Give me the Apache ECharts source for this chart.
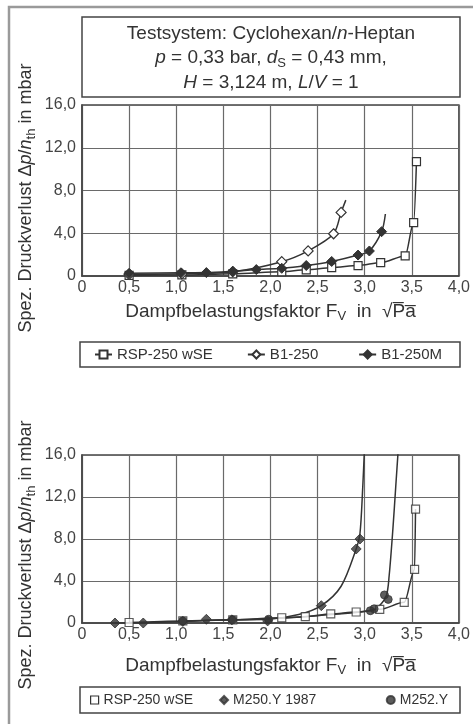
<!DOCTYPE html>
<html>
<head>
<meta charset="utf-8">
<script src="https://cdn.jsdelivr.net/npm/echarts@6/dist/echarts.min.js"></script>
<style>
  html, body { margin: 0; padding: 0; background: #fff; }
  #chart { width: 473px; height: 724px; }
</style>
</head>
<body>
<div id="chart"></div>
<script>
const FONT = '"Liberation Sans", Arial, sans-serif';
const INK = '#333';
const GRIDLINE = '#6a6a6a';

// obere Grafik: Messpunkte [F_V, dp/n_th]
const rspTop = [[0.5, 0.05], [1.06, 0.1], [1.6, 0.2], [2.12, 0.4], [2.38, 0.58], [2.65, 0.78], [2.93, 0.98], [3.17, 1.25], [3.43, 1.88], [3.52, 5.0], [3.55, 10.7]];
const b1Top = [[0.5, 0.15], [1.06, 0.2], [1.6, 0.4], [2.12, 1.34], [2.4, 2.35], [2.67, 3.95], [2.75, 5.95]];
const b1mTop = [[0.5, 0.25], [1.05, 0.3], [1.32, 0.32], [1.6, 0.45], [1.85, 0.6], [2.12, 0.72], [2.38, 0.98], [2.65, 1.36], [2.93, 1.96], [3.05, 2.34], [3.18, 4.15]];
// Kurvenenden ohne Messpunkt
const b1TopEnd = [2.8, 7.1];
const b1mTopEnd = [3.22, 5.8];

// untere Grafik: Messpunkte
const rspBottom = [[0.5, 0.05], [1.07, 0.2], [1.6, 0.3], [2.12, 0.5], [2.37, 0.6], [2.64, 0.86], [2.91, 1.05], [3.16, 1.3], [3.42, 1.97], [3.53, 5.1], [3.54, 10.85]];
const m250Bottom = [[0.35, 0.0], [0.65, 0.0], [1.07, 0.15], [1.32, 0.35], [1.59, 0.3], [1.97, 0.2], [2.54, 1.65], [2.91, 7.05], [2.95, 8.0]];
const m252Bottom = [[1.07, 0.2], [1.6, 0.3], [1.98, 0.35], [3.06, 1.17], [3.1, 1.35], [3.21, 2.67], [3.25, 2.25]];
// Ausgleichskurven
const m250Curve = [[0.35, 0.0], [0.65, 0.02], [1.07, 0.15], [1.59, 0.3], [1.97, 0.35], [2.3, 0.8], [2.54, 1.65], [2.75, 3.5], [2.91, 7.05], [2.95, 8.5], [2.98, 13.0], [3.0, 17.0]];
const m252Curve = [[1.07, 0.2], [1.6, 0.3], [1.98, 0.4], [2.5, 0.7], [3.06, 1.17], [3.15, 1.6], [3.23, 2.6], [3.26, 4.5], [3.3, 9.0], [3.33, 13.0], [3.36, 17.0]];

const legendTop = ['RSP-250 wSE', 'B1-250', 'B1-250M'];
const legendBottom = ['RSP-250 wSE', 'M250.Y 1987', 'M252.Y'];

const numFmt = v => v === 0 ? '0' : v.toFixed(1).replace('.', ',');

function richSet(size) {
  return {
    i: { fontFamily: FONT, fontSize: size, fontStyle: 'italic', color: INK },
    sub: { fontFamily: FONT, fontSize: Math.round(size * 0.7), color: INK, padding: [Math.round(size * 0.55), 0, 0, 0], lineHeight: Math.round(size * 0.75) },
    ov: { fontFamily: FONT, fontSize: size, color: INK }
  };
}

function xAx(gridIndex, gap) {
  return {
    type: 'value', gridIndex, min: 0, max: 4, interval: 0.5,
    axisLine: { show: true, onZero: false, lineStyle: { color: '#444', width: 1.5 } },
    axisTick: { show: false },
    splitLine: { show: true, lineStyle: { color: GRIDLINE, width: 1.2 } },
    axisLabel: { formatter: numFmt, color: '#444', fontSize: 16, fontFamily: FONT, margin: 4 },
    name: 'Dampfbelastungsfaktor F{sub|V}  in  √{ov|P̅a̅}',
    nameLocation: 'middle', nameGap: gap,
    nameTextStyle: { color: INK, fontSize: 19, fontFamily: FONT, rich: richSet(19) }
  };
}

function yAx(gridIndex) {
  return {
    type: 'value', gridIndex, min: 0, max: 16, interval: 4,
    axisLine: { show: true, lineStyle: { color: '#444', width: 1.5 } },
    axisTick: { show: false },
    splitLine: { show: true, lineStyle: { color: GRIDLINE, width: 1.2 } },
    axisLabel: { formatter: numFmt, color: '#444', fontSize: 16, fontFamily: FONT, margin: 6 }
  };
}

const lineBase = {
  type: 'line', smooth: 0.3, showAllSymbol: true,
  lineStyle: { color: INK, width: 1.5 }, emphasis: { disabled: true }
};

const withEnd = (arr, end) => arr.concat([{ value: end, symbol: 'none' }]);

const yLabel = 'Spez. Druckverlust Δ{i|p}/{i|n}{sub|th} in mbar';

const legendText = size => ({ color: INK, fontSize: size, fontFamily: FONT });
const openSquare = { color: '#fff', borderColor: INK, borderWidth: 1.2 };

const chart = echarts.init(document.getElementById('chart'));
chart.setOption({
  backgroundColor: '#fff',
  animation: false,
  grid: [
    { left: 82, right: 14, top: 105, height: 171, show: true, borderColor: '#444', borderWidth: 1.5 },
    { left: 82, right: 14, top: 455, height: 168, show: true, borderColor: '#444', borderWidth: 1.5 }
  ],
  xAxis: [xAx(0, 26), xAx(1, 33)],
  yAxis: [yAx(0), yAx(1)],
  legend: [
    {
      data: legendTop.slice(0, 2), left: 94, top: 347, padding: 0, itemGap: 34, itemWidth: 17, itemHeight: 10,
      selectedMode: false, textStyle: legendText(15)
    },
    {
      data: legendTop.slice(2), right: 31, top: 347, padding: 0, itemWidth: 17, itemHeight: 10,
      selectedMode: false, textStyle: legendText(15)
    },
    {
      data: [
        { name: legendBottom[0], icon: 'rect', itemStyle: openSquare },
        { name: legendBottom[1], icon: 'diamond', itemStyle: { color: INK, borderColor: INK } }
      ],
      left: 90, top: 693, padding: 0, itemGap: 26, itemWidth: 8, itemHeight: 8,
      selectedMode: false, textStyle: legendText(14)
    },
    {
      data: [{ name: legendBottom[2], icon: 'circle', itemStyle: { color: INK, borderColor: INK } }],
      right: 25, top: 693, padding: 0, itemWidth: 8, itemHeight: 8,
      selectedMode: false, textStyle: legendText(14)
    }
  ],
  graphic: [
    { type: 'rect', shape: { x: 9, y: 7, width: 480, height: 740 }, style: { fill: 'none', stroke: '#9a9a9a', lineWidth: 2.5 }, z: -1 },
    { type: 'rect', shape: { x: 82, y: 17, width: 378, height: 80 }, style: { fill: '#fff', stroke: '#444', lineWidth: 1.5 } },
    {
      type: 'text', x: 271, y: 58,
      style: {
        text: 'Testsystem: Cyclohexan/{i|n}-Heptan\n{i|p} = 0,33 bar, {i|d}{sub|S} = 0,43 mm,\n{i|H} = 3,124 m, {i|L}/{i|V} = 1',
        align: 'center', verticalAlign: 'middle', textAlign: 'center', textVerticalAlign: 'middle',
        fontFamily: FONT, fontSize: 19, fill: INK, lineHeight: 24.5, rich: richSet(19)
      }
    },
    { type: 'rect', shape: { x: 80, y: 342, width: 380, height: 25 }, style: { fill: 'none', stroke: '#444', lineWidth: 1.5 } },
    { type: 'rect', shape: { x: 80, y: 687, width: 380, height: 26 }, style: { fill: 'none', stroke: '#444', lineWidth: 1.5 } },
    {
      type: 'text', x: 26, y: 198, rotation: Math.PI / 2,
      style: {
        text: yLabel, align: 'center', verticalAlign: 'middle', textAlign: 'center', textVerticalAlign: 'middle',
        fontFamily: FONT, fontSize: 18, fill: INK, rich: richSet(18)
      }
    },
    {
      type: 'text', x: 26, y: 555, rotation: Math.PI / 2,
      style: {
        text: yLabel, align: 'center', verticalAlign: 'middle', textAlign: 'center', textVerticalAlign: 'middle',
        fontFamily: FONT, fontSize: 18, fill: INK, rich: richSet(18)
      }
    }
  ],
  series: [
    // oben
    Object.assign({}, lineBase, {
      name: 'RSP-250 wSE', xAxisIndex: 0, yAxisIndex: 0, data: rspTop, smoothMonotone: 'x',
      symbol: 'rect', symbolSize: 8, itemStyle: openSquare
    }),
    Object.assign({}, lineBase, {
      name: 'B1-250', xAxisIndex: 0, yAxisIndex: 0, data: withEnd(b1Top, b1TopEnd),
      symbol: 'diamond', symbolSize: 10, itemStyle: { color: '#fff', borderColor: INK, borderWidth: 1.2 }
    }),
    Object.assign({}, lineBase, {
      name: 'B1-250M', xAxisIndex: 0, yAxisIndex: 0, data: withEnd(b1mTop, b1mTopEnd),
      symbol: 'diamond', symbolSize: 10, itemStyle: { color: INK, borderColor: INK, borderWidth: 1 }
    }),
    // unten: Kurven
    Object.assign({}, lineBase, { name: 'rspKurve', xAxisIndex: 1, yAxisIndex: 1, data: rspBottom, smoothMonotone: 'x', showSymbol: false, silent: true }),
    Object.assign({}, lineBase, { name: 'm250Kurve', xAxisIndex: 1, yAxisIndex: 1, data: m250Curve, showSymbol: false, silent: true }),
    Object.assign({}, lineBase, { name: 'm252Kurve', xAxisIndex: 1, yAxisIndex: 1, data: m252Curve, showSymbol: false, silent: true }),
    // unten: Messpunkte
    {
      name: 'RSP-250 wSE', type: 'scatter', xAxisIndex: 1, yAxisIndex: 1, data: rspBottom, z: 4,
      symbol: 'rect', symbolSize: 8, itemStyle: openSquare
    },
    {
      name: 'M250.Y 1987', type: 'scatter', xAxisIndex: 1, yAxisIndex: 1, data: m250Bottom, z: 4,
      symbol: 'diamond', symbolSize: 10, itemStyle: { color: INK, borderColor: INK, borderWidth: 1 }
    },
    {
      name: 'M252.Y', type: 'scatter', xAxisIndex: 1, yAxisIndex: 1, data: m252Bottom, z: 4,
      symbol: 'circle', symbolSize: 8, itemStyle: { color: INK, borderColor: INK, borderWidth: 1 }
    }
  ]
});
</script>
</body>
</html>
